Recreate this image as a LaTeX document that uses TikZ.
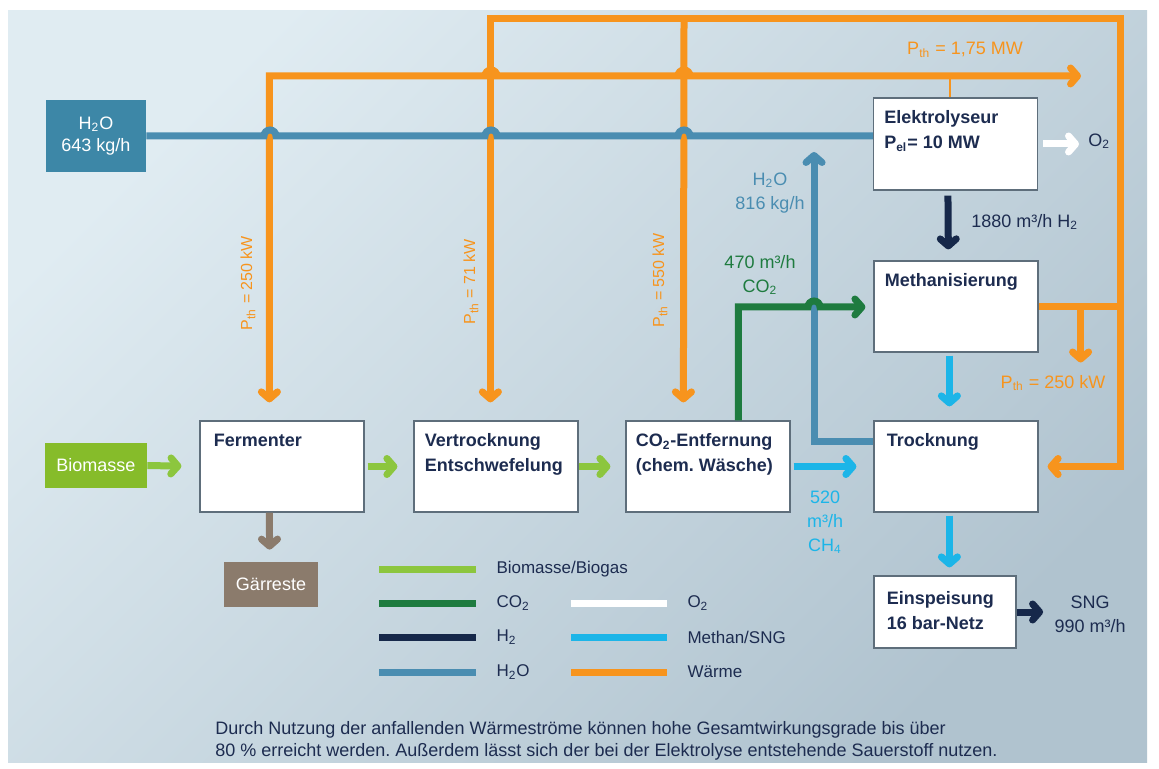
\documentclass[tikz,border=0pt]{standalone}
\usepackage{fontspec}
\setmainfont{Liberation Sans}
\usetikzlibrary{arrows.meta,calc}
\frenchspacing

\definecolor{waerme}{HTML}{F7941D}
\definecolor{biogr}{HTML}{8CC63E}
\definecolor{co2gr}{HTML}{1E7B3F}
\definecolor{wasser}{HTML}{4A8DB1}
\definecolor{methan}{HTML}{1CB5E8}
\definecolor{hzwei}{HTML}{16284A}
\definecolor{schrift}{HTML}{1D2C50}
\definecolor{rahmen}{HTML}{5E6E7B}
\definecolor{bgoben}{HTML}{E0ECF2}
\definecolor{bgunten}{HTML}{B0C3CF}
\definecolor{gaerbraun}{HTML}{8B7B6C}
\definecolor{hdoblau}{HTML}{3D87A7}
\definecolor{biofeld}{HTML}{86BC2A}

\begin{document}
\begin{tikzpicture}[x=0.5pt,y=-0.5pt,>={Straight Barb[length=3.5pt,width=8pt,round]},
    stufe/.style={draw=rahmen,line width=0.6pt,fill=white,minimum width=82pt,minimum height=45.5pt,inner sep=0pt},
    titel/.style={anchor=north west,inner sep=0pt,align=left,text=schrift,font=\fontsize{9}{12.5}\selectfont\bfseries},
    feld/.style={minimum height=22.5pt,inner sep=0pt,text=white,align=center,font=\fontsize{9}{11}\selectfont},
    wert/.style={inner sep=0pt,align=center,font=\fontsize{9}{12}\selectfont},
    legtext/.style={anchor=west,inner sep=0pt,xshift=8.5pt,text=schrift,font=\fontsize{8.5}{10}\selectfont},
    strom/.style={line width=3.5pt},
    waermel/.style={strom,draw=waerme},
    wasserl/.style={strom,draw=wasser},
    biol/.style={strom,draw=biogr},
    co2l/.style={strom,draw=co2gr},
    methanl/.style={strom,draw=methan},
    hzweil/.style={strom,draw=hzwei},
    o2l/.style={strom,draw=white},
    gaerl/.style={strom,draw=gaerbraun}]

    % Hintergrund
    \useasboundingbox (0,0) rectangle (1159,769);
    \fill[white] (0,0) rectangle (1159,769);
    \shade[top color=bgoben,bottom color=bgunten,shading angle=45] (8,11) rectangle (1147,762);

    % Stufen
    \node[feld,fill=hdoblau,minimum width=50pt,minimum height=36pt] (h2o) at (96,136) {H\textsubscript{2}O\\643 kg/h};
    \node[feld,fill=biofeld,minimum width=51pt] (bio) at (96,465.5) {Biomasse};
    \node[feld,fill=gaerbraun,minimum width=47pt] (gaer) at (271,584.5) {Gärreste};
    \node[stufe] (ferm) at (282,466.5) {};
    \node[stufe] (vert) at (496,466.5) {};
    \node[stufe] (co2e) at (708,466.5) {};
    \node[stufe] (troc) at (956,466.5) {};
    \node[stufe] (meth) at (956,306.5) {};
    \node[stufe,minimum height=46pt] (elek) at (955.5,144) {};
    \node[stufe,minimum width=71pt,minimum height=36pt] (einsp) at (945,612) {};

    \node[titel] (ferm-t) at ($(ferm.north west)+(14,13)$) {Fermenter};
    \node[titel] (vert-t) at ($(vert.north west)+(11,13)$) {Vertrocknung\\Entschwefelung};
    \node[titel] (co2e-t) at ($(co2e.north west)+(10,13)$) {CO\textsubscript{2}-Entfernung\\(chem. Wäsche)};
    \node[titel] (troc-t) at ($(troc.north west)+(13,13)$) {Trocknung};
    \node[titel] (meth-t) at ($(meth.north west)+(11,13)$) {Methanisierung};
    \node[titel] (elek-t) at ($(elek.north west)+(11,13)$) {Elektrolyseur\\P\textsubscript{el}= 10 MW};
    \node[titel] (einsp-t) at ($(einsp.north west)+(13,16)$) {Einspeisung\\16 bar-Netz};

    % Werte
    \node[wert,text=waerme] (p-elek) at (965,50) {P\textsubscript{th} = 1,75 MW};
    \node[wert,text=waerme,rotate=90,font=\fontsize{8}{10}\selectfont] (p-ferm) at (248,283) {P\textsubscript{th} = 250 kW};
    \node[wert,text=waerme,rotate=90,font=\fontsize{8}{10}\selectfont] (p-vert) at (471,282) {P\textsubscript{th} = 71 kW};
    \node[wert,text=waerme,rotate=90,font=\fontsize{8}{10}\selectfont] (p-co2e) at (660,280) {P\textsubscript{th} = 550 kW};
    \node[wert,text=waerme] (p-meth) at (1053,383) {P\textsubscript{th} = 250 kW};
    \node[wert,text=wasser] (w-rueck) at (770,193) {H\textsubscript{2}O\\816 kg/h};
    \node[wert,text=co2gr] (w-co2) at (760,275) {470 m³/h\\CO\textsubscript{2}};
    \node[wert,text=schrift,anchor=west] (w-h2) at (971,222) {1880 m³/h H\textsubscript{2}};
    \node[wert,text=methan] (w-ch4) at (825,522) {520\\m³/h\\CH\textsubscript{4}};
    \node[wert,text=schrift] (sng) at (1090,614) {SNG\\990 m³/h};
    \node[wert,text=schrift,anchor=west] (o2) at (1088,141) {O\textsubscript{2}};

    % Waerme
    \coordinate (wo) at (1120,19);
    \coordinate (abzw) at (684,19);
    \coordinate (wm) at (1081,76);
    \draw[waermel,->] (meth.east) -| (wo) -| ($(vert.north west)+(77,-18)$);
    \draw[waermel,->] (abzw) -- ($(co2e.north west)+(58,-18)$);
    \draw[waermel,->] (meth.east -| wo) |- ($(troc.east)+(9,0)$);
    \draw[waermel,->] ($(meth.east)+(42,0)$) -- ++(0,56);
    \draw[waerme,line width=1.2pt] ($(elek.north west)+(77,0)$) -- ++(0,-22);
    \draw[waermel,<->] ($(ferm.north west)+(70,-18)$) |- (485,76)
        arc[start angle=180,end angle=360,radius=6] -- (678,76)
        arc[start angle=180,end angle=360,radius=6] -- (wm);

    % Wasser
    \coordinate (rueck) at (814,152);
    \draw[wasserl] (h2o.east) -- (264,136)
        arc[start angle=180,end angle=360,radius=6] -- (485,136)
        arc[start angle=180,end angle=360,radius=6] -- (678,136)
        arc[start angle=180,end angle=360,radius=6] -- (elek.west |- h2o.east);
    \draw[wasserl,->] ($(troc.north west)+(0,21)$) -| (rueck);

    % CO2
    \draw[co2l,->] ($(co2e.north west)+(113,0)$) |- (808,307)
        arc[start angle=180,end angle=360,radius=6] -- ($(meth.west)+(-8,0.5)$);

    % Biomasse / Biogas
    \draw[biol,->,shorten >=9pt] (bio.east) -- (ferm.west);
    \draw[biol,->,shorten <=1.5pt,shorten >=8pt] (ferm.east) -- (vert.west);
    \draw[biol,->,shorten >=7.5pt] (vert.east) -- (co2e.west);
    \draw[gaerl,->,shorten >=6pt] ($(ferm.south west)+(70,0)$) -- ($(gaer.north west)+(46,0)$);

    % Methan / SNG
    \draw[methanl,->,shorten <=1.5pt,shorten >=8.5pt] (co2e.east) -- (troc.west);
    \draw[methanl,->,shorten <=1.5pt,shorten >=7pt] ($(meth.south west)+(76,0)$) -- ($(troc.north west)+(76,0)$);
    \draw[methanl,->,shorten <=1.5pt,shorten >=4pt] ($(troc.south west)+(76,0)$) -- ($(einsp.north west)+(76,0)$);

    % H2, O2, SNG
    \draw[hzweil,->,shorten <=2.5pt,shorten >=5.5pt] ($(elek.south west)+(75,0)$) -- ($(meth.north west)+(75,0)$);
    \draw[hzweil,->,shorten >=5.5pt] (einsp.east) -- (einsp.east -| sng.west);
    \draw[o2l,->,shorten <=2.5pt,shorten >=4.5pt] (elek.east) -- (elek.east -| o2.west);

    % Legende
    \draw[biol] (379,569) -- (476,569) node[legtext] (l-bio) {Biomasse/Biogas};
    \draw[co2l] (379,603) -- (476,603) node[legtext] (l-co2) {CO\textsubscript{2}};
    \draw[hzweil] (379,637) -- (476,637) node[legtext] (l-h2) {H\textsubscript{2}};
    \draw[wasserl] (379,672) -- (476,672) node[legtext] (l-h2o) {H\textsubscript{2}O};
    \draw[o2l] (571,603) -- (667,603) node[legtext] (l-o2) {O\textsubscript{2}};
    \draw[methanl] (571,637) -- (667,637) node[legtext] (l-ch4) {Methan/SNG};
    \draw[waermel] (571,672) -- (667,672) node[legtext] (l-wae) {Wärme};

    \node[anchor=north west,inner sep=0pt,align=left,text=schrift,font=\fontsize{9}{11}\selectfont] (fuss) at (215,721)
        {Durch Nutzung der anfallenden Wärmeströme können hohe Gesamtwirkungsgrade bis über\\
         80 \% erreicht werden. Außerdem lässt sich der bei der Elektrolyse entstehende Sauerstoff nutzen.};
\end{tikzpicture}
\end{document}
